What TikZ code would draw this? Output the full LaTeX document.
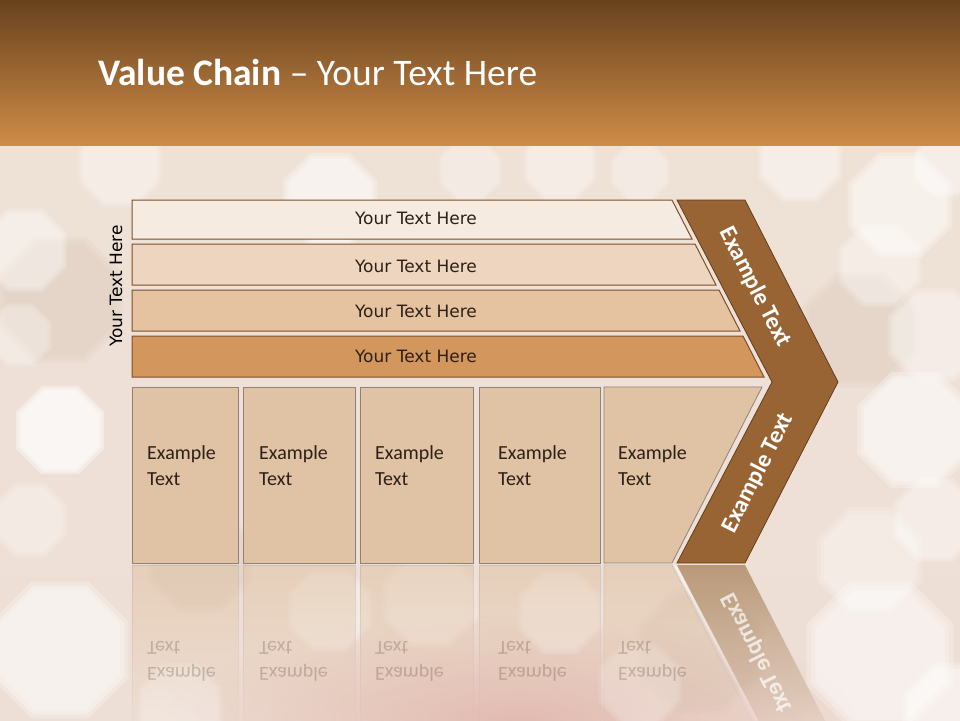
\documentclass[tikz,border=0pt]{standalone}
\usepackage{fontspec}
\usepackage{graphicx}
\setmainfont{Carlito}
\newfontfamily\dejavu{DejaVu Sans}
\usetikzlibrary{fadings}
\definecolor{hdrTop}{RGB}{104,66,30}
\definecolor{hdrMid}{RGB}{170,108,48}
\definecolor{hdrBot}{RGB}{206,140,72}
\definecolor{bgTop}{RGB}{238,225,214}
\definecolor{bgBot}{RGB}{238,223,214}
\definecolor{pinkish}{RGB}{226,186,178}
\definecolor{patch}{RGB}{214,194,178}
\definecolor{barA}{RGB}{246,235,225}
\definecolor{barB}{RGB}{237,213,191}
\definecolor{barC}{RGB}{229,194,160}
\definecolor{barD}{RGB}{211,150,92}
\definecolor{barLine}{RGB}{122,80,42}
\definecolor{chev}{RGB}{152,100,52}
\definecolor{chevLine}{RGB}{100,62,28}
\definecolor{boxFill}{RGB}{224,194,164}
\definecolor{boxLine}{RGB}{142,130,122}
\definecolor{reflLine}{RGB}{190,178,170}
\definecolor{reflChev}{RGB}{176,140,104}
\definecolor{darktext}{RGB}{45,32,22}
\tikzfading[name=reflfade, top color=transparent!45, bottom color=transparent!100]
\tikzfading[name=reflfadeB, top color=transparent!15, bottom color=transparent!100]
\newcommand\mkblob[5][white]{%
  \pgfmathsetmacro\blobop{1-(1-#5)^(1/3)}%
  \foreach \rr in {1.14,1.07,1}{%
    \pgfmathsetmacro\blobr{#4*\rr}%
    \fill[#1,opacity=\blobop,shift={(#2,#3)}] (22.5:\blobr) -- (67.5:\blobr) -- (112.5:\blobr) -- (157.5:\blobr) -- (202.5:\blobr) -- (247.5:\blobr) -- (292.5:\blobr) -- (337.5:\blobr) -- cycle;}}
\tikzset{
  barshape/.style={draw=barLine, line width=1pt},
  boxshape/.style={fill=boxFill, draw=boxLine, line width=0.8pt},
  bartext/.style={font=\dejavu\fontsize{17}{20}\selectfont, text=darktext, inner sep=0pt},
  boxtext/.style={font=\fontsize{20}{24}\selectfont, text=darktext, inner sep=0pt, anchor=base west},
  refltext/.style={font=\fontsize{20}{24}\selectfont, text=darktext, opacity=0.22, inner sep=0pt, anchor=base west},
  chevtext/.style={font=\bfseries\fontsize{24}{28}\selectfont, text=white, inner sep=0pt},
  reflbox/.style={fill=boxFill, draw=reflLine, line width=0.8pt, path fading=reflfade},
}
\begin{document}
\begin{tikzpicture}[x=1pt, y=-1pt]
\useasboundingbox (0,0) rectangle (960,720);
\clip (0,0) rectangle (960,720);
% background
\shade[top color=bgTop, bottom color=bgBot] (0,145) rectangle (960,720);
\shade[inner color=pinkish, outer color=bgBot] (520,720) ellipse [x radius=360, y radius=110];
\mkblob[patch]{60}{300}{60}{0.35}
\mkblob[patch]{200}{560}{50}{0.3}
\mkblob[patch]{860}{330}{55}{0.3}
\mkblob[patch]{700}{650}{60}{0.3}
\mkblob{120}{165}{40}{0.4}
\mkblob{330}{200}{45}{0.6}
\mkblob{470}{170}{30}{0.35}
\mkblob{560}{165}{35}{0.4}
\mkblob{640}{172}{28}{0.35}
\mkblob{800}{160}{40}{0.45}
\mkblob{900}{205}{50}{0.55}
\mkblob{945}{165}{30}{0.45}
\mkblob{25}{250}{40}{0.45}
\mkblob{20}{335}{30}{0.35}
\mkblob{60}{430}{42}{0.75}
\mkblob{30}{520}{35}{0.35}
\mkblob{880}{265}{40}{0.4}
\mkblob{935}{335}{45}{0.45}
\mkblob{915}{430}{55}{0.6}
\mkblob{870}{560}{50}{0.4}
\mkblob{935}{520}{40}{0.45}
\mkblob{60}{650}{65}{0.6}
\mkblob{180}{705}{40}{0.35}
\mkblob{330}{610}{40}{0.4}
\mkblob{430}{600}{45}{0.35}
\mkblob{560}{612}{40}{0.45}
\mkblob{640}{685}{40}{0.3}
\mkblob{880}{655}{70}{0.55}
\mkblob{955}{715}{50}{0.55}
% header
\shade[top color=hdrTop, middle color=hdrMid, bottom color=hdrBot] (0,0) rectangle (960,145);
\node[anchor=base west, font=\fontsize{37.5}{42}\selectfont, text=white, inner sep=0pt] (title) at (98,85) {\textbf{Value Chain} – Your Text Here};
% reflections
\path[reflbox] (132,565) rectangle (238,741);
\path[reflbox] (243,565) rectangle (355,741);
\path[reflbox] (360,565) rectangle (473,741);
\path[reflbox] (479,565) rectangle (600,741);
\path[reflbox] (604,565) -- (672,565) -- (762,741) -- (604,741) -- cycle;
\fill[reflChev, path fading=reflfadeB] (677,565) -- (745,565) -- (838,746) -- (772,746) -- cycle;
\draw[white, line width=2pt, opacity=0.7, path fading=reflfadeB] (675,565) -- (770,746);
\foreach \n/\x in {1/147,2/259,3/375,4/498,5/618}{
  \node[refltext] (rt\n) at (\x,641) {\scalebox{1}[-1]{Text}};
  \node[refltext] (re\n) at (\x,667) {\scalebox{1}[-1]{Example}};
}
\node[chevtext, rotate=-63, opacity=0.7] (rchev) at (757,653) {\scalebox{1}[-1]{Example Text}};
% bars
\draw[barshape, fill=barA] (132,200) -- (672,200) -- (692,239) -- (132,239) -- cycle;
\draw[barshape, fill=barB] (132,244) -- (695,244) -- (716,285) -- (132,285) -- cycle;
\draw[barshape, fill=barC] (132,290) -- (719,290) -- (740,331) -- (132,331) -- cycle;
\draw[barshape, fill=barD] (132,336) -- (743,336) -- (764,377) -- (132,377) -- cycle;
\node[bartext] (t1) at (416,218) {Your Text Here};
\node[bartext] (t2) at (416,266) {Your Text Here};
\node[bartext] (t3) at (416,311) {Your Text Here};
\node[bartext] (t4) at (416,356) {Your Text Here};
\node[bartext, rotate=90, text=black] (side) at (116,286) {Your Text Here};
% chevron
\draw[fill=chev, draw=chevLine, line width=0.8pt] (677,200) -- (745,200) -- (838,382) -- (745,563) -- (677,563) -- (772,382) -- cycle;
\node[chevtext, rotate=-63] (cu) at (755,287) {Example Text};
\node[chevtext, rotate=63] (cl) at (758,473) {Example Text};
% boxes
\draw[boxshape] (132,387) rectangle (238,563);
\draw[boxshape] (243,387) rectangle (355,563);
\draw[boxshape] (360,387) rectangle (473,563);
\draw[boxshape] (479,387) rectangle (600,563);
\draw[boxshape] (604,387) -- (762,387) -- (672,563) -- (604,563) -- cycle;
\foreach \n/\x in {1/147,2/259,3/375,4/498,5/618}{
  \node[boxtext] (be\n) at (\x,459) {Example};
  \node[boxtext] (bt\n) at (\x,485) {Text};
}
\end{tikzpicture}
\end{document}
